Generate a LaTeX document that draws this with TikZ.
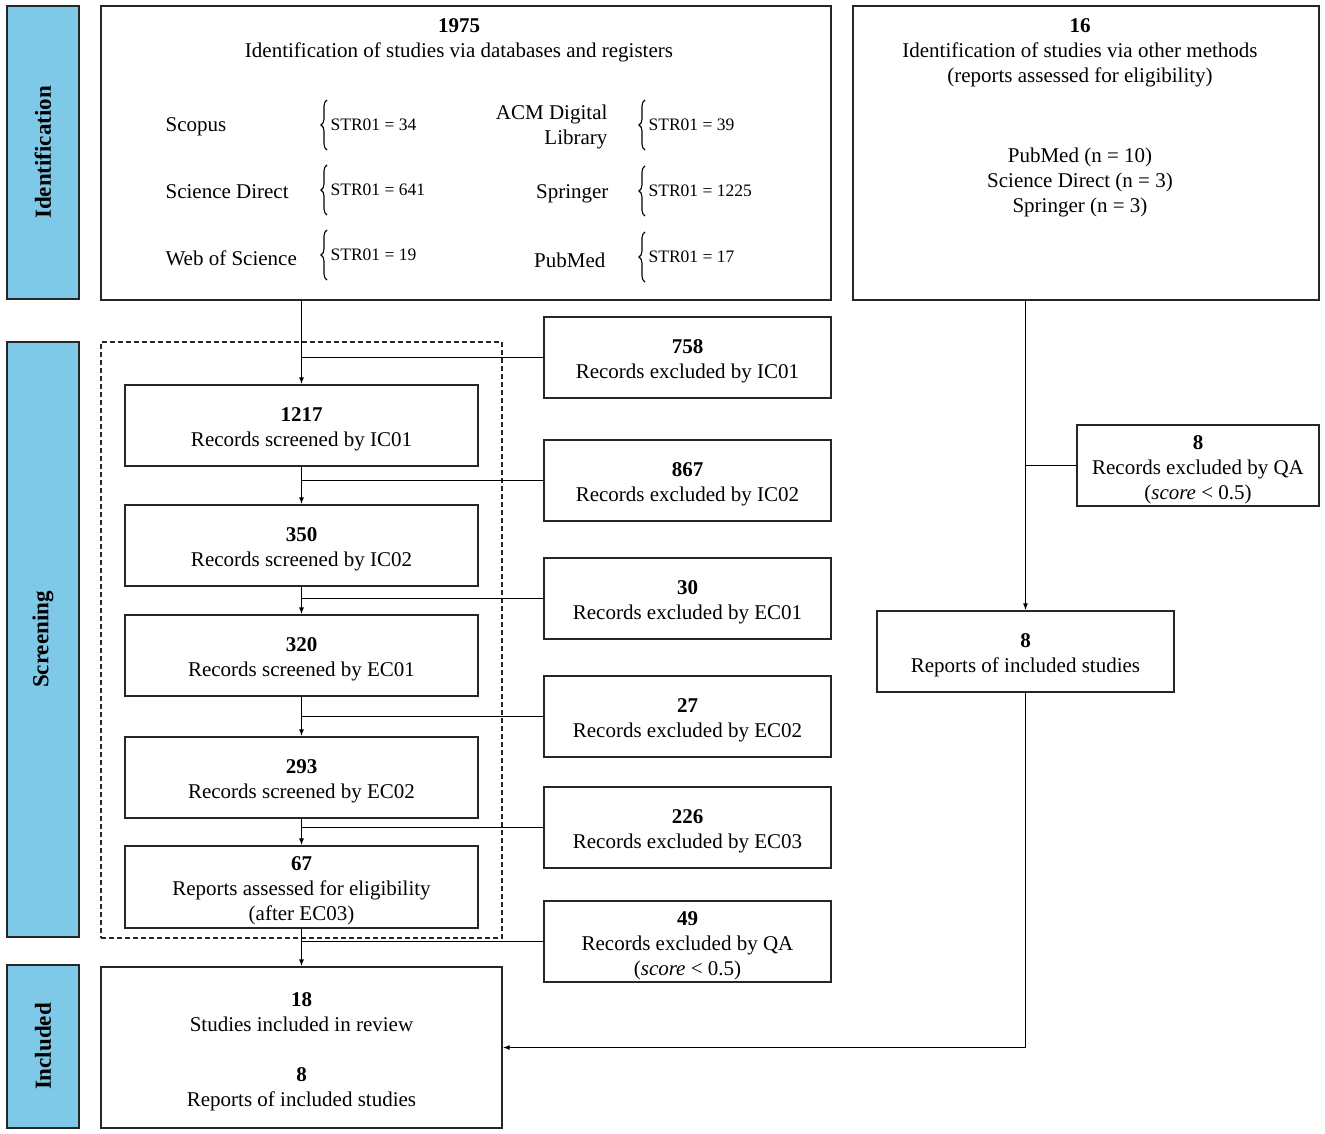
\documentclass[tikz,border=0pt]{standalone}
\usepackage{fontspec}
\setmainfont{Liberation Serif}
\usetikzlibrary{arrows.meta,decorations.pathreplacing}
\definecolor{phaseblue}{RGB}{126,200,232}
\newcommand\headnum[1]{\rule{0pt}{22pt}\textbf{#1}}

\begin{document}
\begin{tikzpicture}[x=1pt,y=-1pt,>={Latex[length=7pt,width=5pt]},line width=1.2pt,
    box/.style={draw=black!85,line width=1.3pt,align=center,inner sep=0pt,font=\fontsize{21}{25}\selectfont},
    stage/.style={box,minimum width=353pt,minimum height=81pt},
    drop/.style={box,minimum width=287pt,minimum height=81pt},
    phase/.style={box,fill=phaseblue,rotate=90,minimum height=72pt,font=\fontsize{23}{25}\selectfont\bfseries},
    txt/.style={align=center,inner sep=0pt,font=\fontsize{21}{25}\selectfont},
    src/.style={inner sep=0pt,font=\fontsize{21}{25}\selectfont},
    cnt/.style={inner sep=0pt,anchor=west,font=\fontsize{17.5}{20}\selectfont},
    brc/.style={decorate,decoration={brace,amplitude=6pt},line width=1.1pt}]
    \useasboundingbox (0,0) rectangle (1325,1134);

    % phases
    \node[phase,minimum width=293pt] (idbar) at (43,152.5) {Identification};
    \node[phase,minimum width=595pt] (scbar) at (43,639.5) {Screening};
    \node[phase,minimum width=163pt] (inbar) at (43,1046.5) {Included};

    % identification
    \node[box,minimum width=730pt,minimum height=294pt] (idb) at (466,153) {};
    \node[txt] (idbtitle) at (459,36.5) {\headnum{1975}\\Identification of studies via databases and registers};
    \node[txt] (iothertitle) at (1080,49) {\headnum{16}\\Identification of studies via other methods\\(reports assessed for eligibility)};
    \node[box,minimum width=466pt,minimum height=294pt] (iother) at (1086,153) {};
    \node[txt] (iotherlist) at (1080,182) {PubMed (n = 10)\\Science Direct (n = 3)\\Springer (n = 3)};

    \node[src,anchor=west] (scopus) at (165,127) {Scopus};
    \node[src,anchor=west] (scidir) at (165,192) {Science Direct};
    \node[src,anchor=west] (wos) at (165,258) {Web of Science};
    \node[src,anchor=east,align=right] (acm) at (608,127) {ACM Digital\\Library};
    \node[src,anchor=east] (springer) at (609,194) {Springer};
    \node[src,anchor=east] (pubmed) at (606,260) {PubMed};

    \node[cnt] (nscopus) at (330,125) {STR01 = 34};
    \node[cnt] (nscidir) at (330,190) {STR01 = 641};
    \node[cnt] (nwos) at (330,255) {STR01 = 19};
    \node[cnt] (nacm) at (648,125) {STR01 = 39};
    \node[cnt] (nspringer) at (648,191) {STR01 = 1225};
    \node[cnt] (npubmed) at (648,257) {STR01 = 17};
    \foreach \n in {nscopus,nscidir,nwos,nacm,nspringer,npubmed}
        \draw[brc] ([shift={(-3,25)}]\n.west) -- ([shift={(-3,-25)}]\n.west);

    % screening
    \node[draw=black!85,line width=1.2pt,dash pattern=on 5pt off 3pt,minimum width=401pt,minimum height=596pt,inner sep=0pt] (scframe) at (301.5,640) {};
    \node[stage] (s1) at (301.5,425.5) {\headnum{1217}\\Records screened by IC01};
    \node[stage] (s2) at (301.5,545.5) {\headnum{350}\\Records screened by IC02};
    \node[stage] (s3) at (301.5,655.5) {\headnum{320}\\Records screened by EC01};
    \node[stage] (s4) at (301.5,777.5) {\headnum{293}\\Records screened by EC02};
    \node[stage,minimum height=82pt] (s5) at (301.5,887) {\headnum{67}\\Reports assessed for eligibility\\(after EC03)};

    \node[drop] (e1) at (687.5,357.5) {\headnum{758}\\Records excluded by IC01};
    \node[drop] (e2) at (687.5,480.5) {\headnum{867}\\Records excluded by IC02};
    \node[drop] (e3) at (687.5,598.5) {\headnum{30}\\Records excluded by EC01};
    \node[drop] (e4) at (687.5,716.5) {\headnum{27}\\Records excluded by EC02};
    \node[drop] (e5) at (687.5,827.5) {\headnum{226}\\Records excluded by EC03};
    \node[drop] (e6) at (687.5,941.5) {\headnum{49}\\Records excluded by QA\\(\textit{score} < 0.5)};

    \node[box,minimum width=242pt,minimum height=81pt] (qa) at (1198,465.5) {\headnum{8}\\Records excluded by QA\\(\textit{score} < 0.5)};
    \node[box,minimum width=297pt,minimum height=81pt] (rep) at (1025.5,651.5) {\headnum{8}\\Reports of included studies};

    % included
    \node[box,minimum width=401pt,minimum height=161pt] (incl) at (301.5,1047.5) {\headnum{18}\\Studies included in review\\[25pt]\textbf{8}\\Reports of included studies};

    % flow
    \draw[->] (s1.north |- idb.south) -- (s1.north);
    \draw[->] (s1.south) -- (s2.north);
    \draw[->] (s2.south) -- (s3.north);
    \draw[->] (s3.south) -- (s4.north);
    \draw[->] (s4.south) -- (s5.north);
    \draw[->] (s5.south) -- (incl.north);
    \foreach \e in {e1,e2,e3,e4,e5,e6}
        \draw (\e.west) -- (\e.west -| s1.north);

    \coordinate (otherout) at (rep.north |- iother.south);
    \draw[->] (otherout) -- (rep.north);
    \draw (qa.west) -- (qa.west -| rep.north);
    \draw[->] (rep.south) |- (incl.east);
\end{tikzpicture}
\end{document}
